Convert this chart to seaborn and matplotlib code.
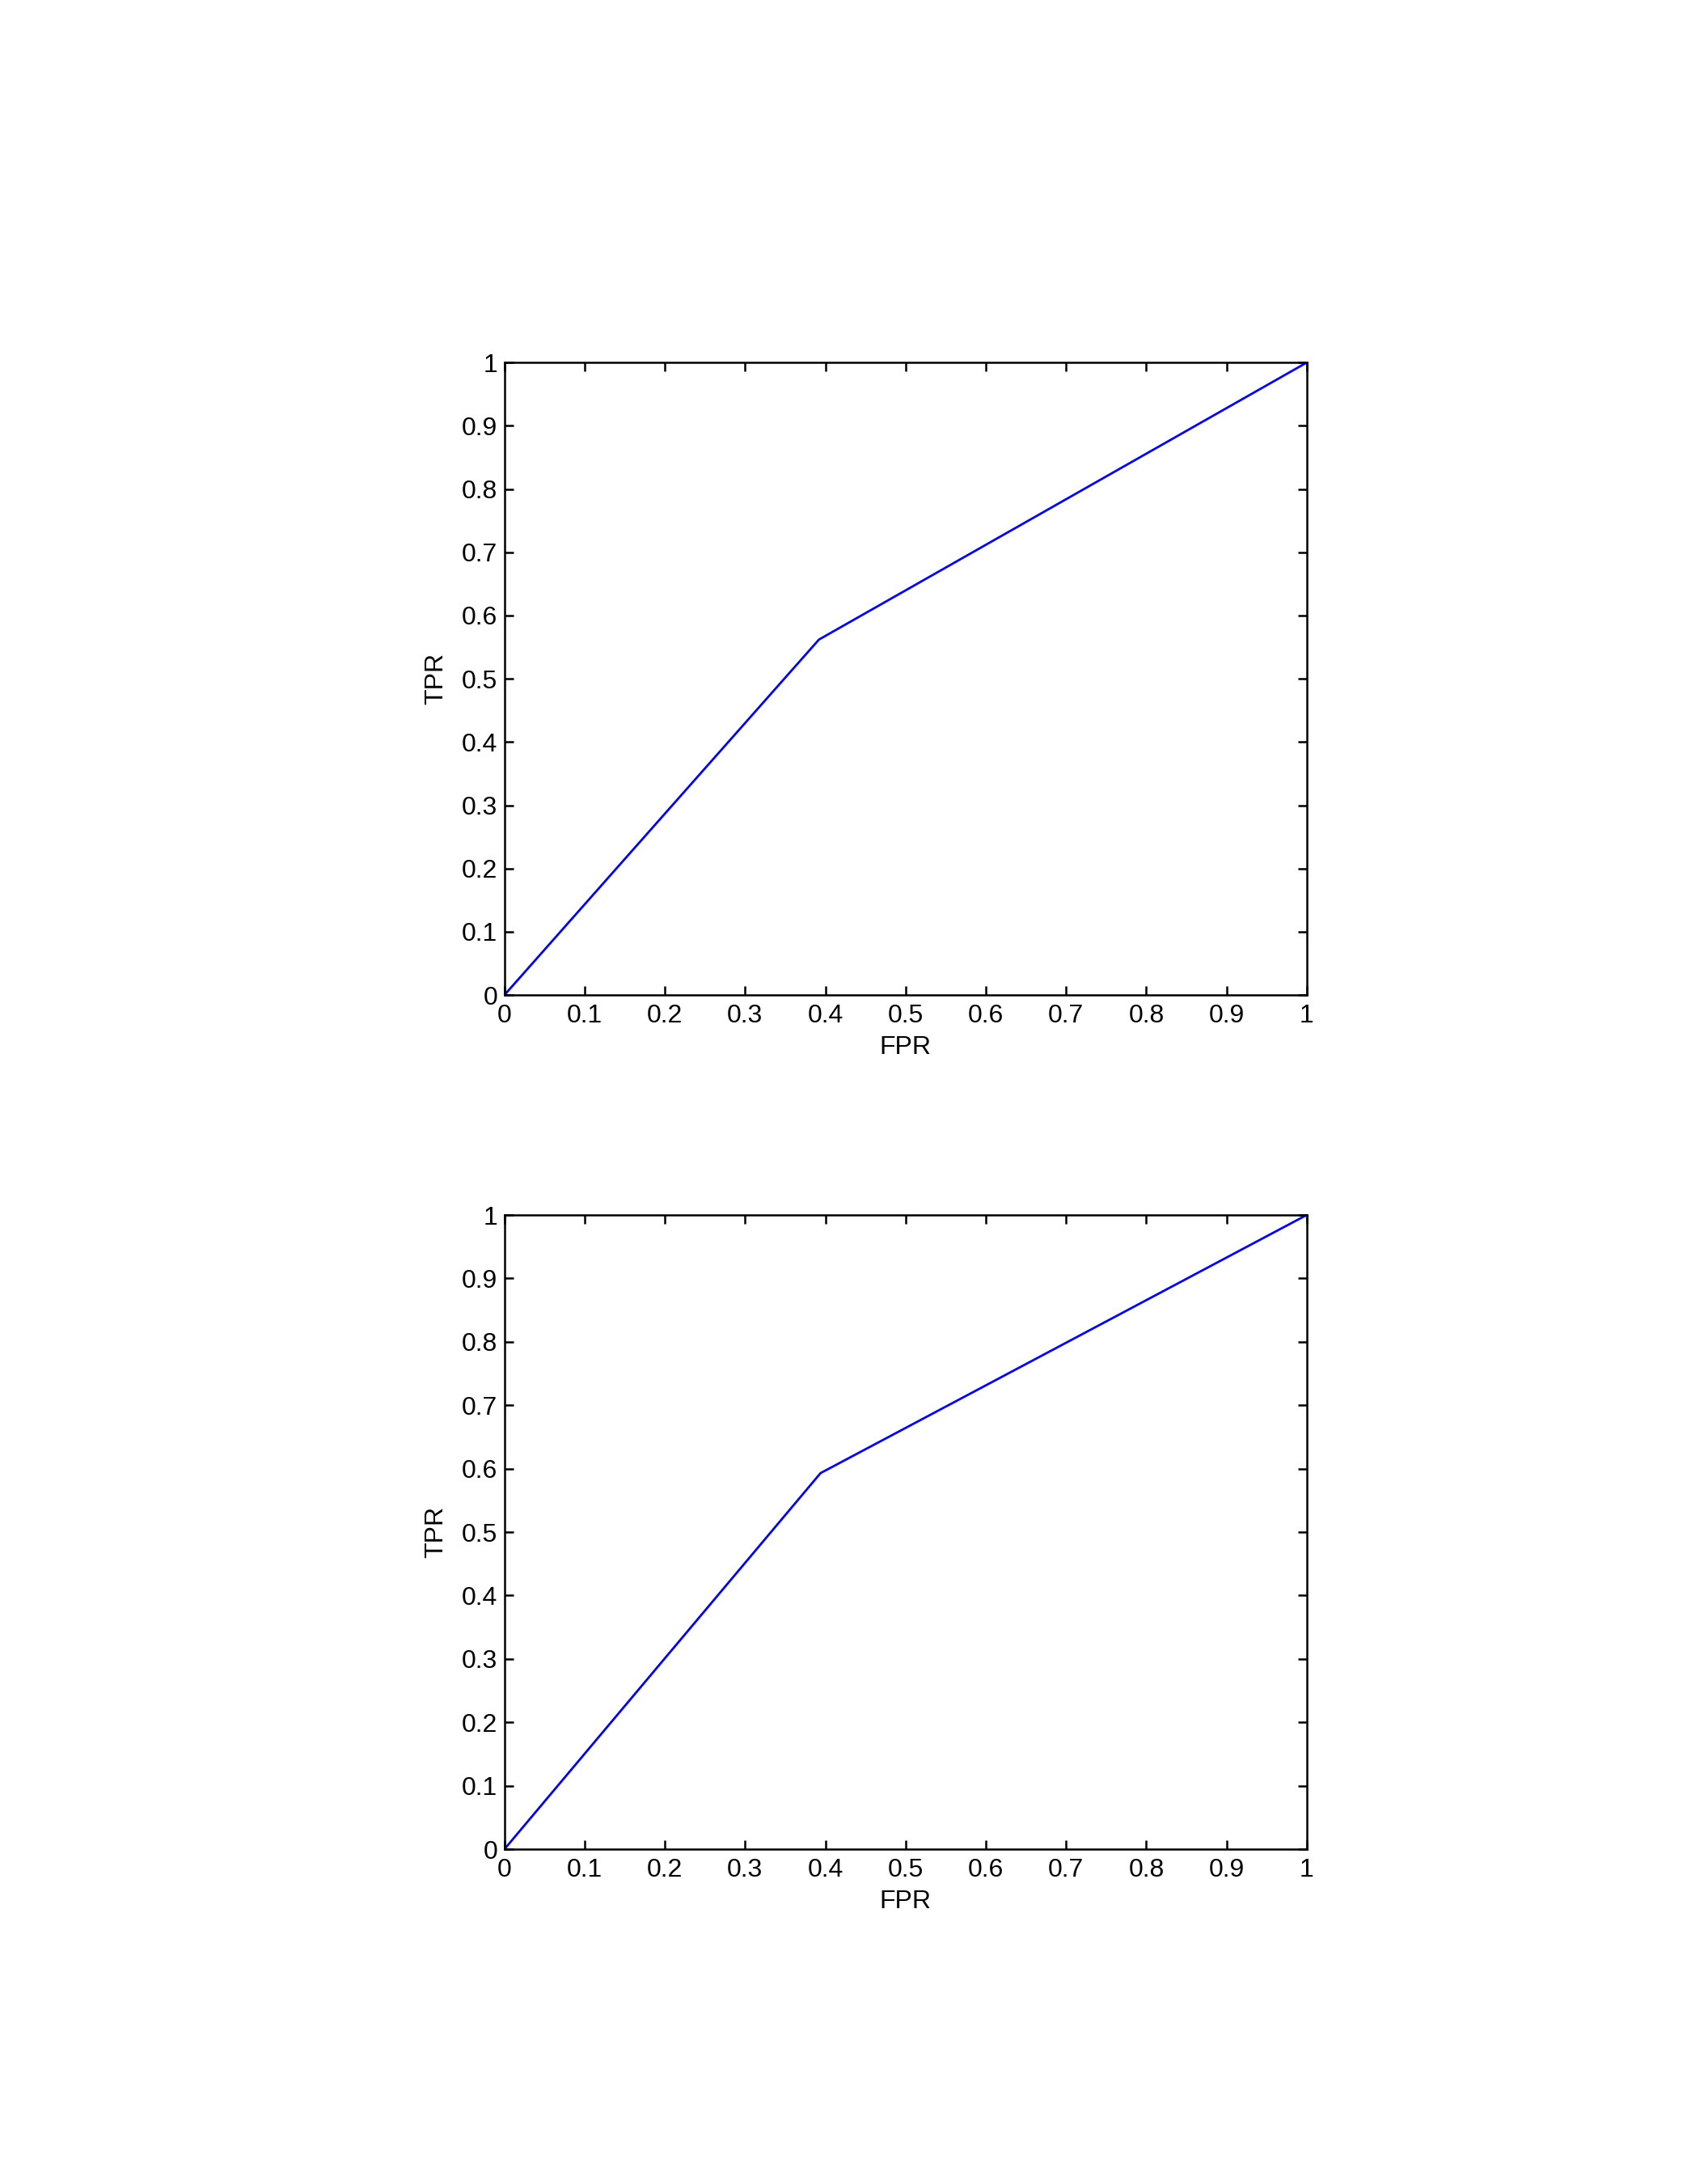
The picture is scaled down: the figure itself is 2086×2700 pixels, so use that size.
import numpy as np
import pandas as pd
import matplotlib
matplotlib.use("Agg")
import matplotlib.pyplot as plt
import seaborn as sns

# ROC points (one threshold -> three points)
fpr_top = [0.0, 0.392, 1.0]
tpr_top = [0.0, 0.562, 1.0]
fpr_bottom = [0.0, 0.394, 1.0]
tpr_bottom = [0.0, 0.593, 1.0]
tick_values = [0, 0.1, 0.2, 0.3, 0.4, 0.5, 0.6, 0.7, 0.8, 0.9, 1]
tick_labels = ["0", "0.1", "0.2", "0.3", "0.4", "0.5", "0.6", "0.7", "0.8", "0.9", "1"]

sns.set_style("ticks")
plt.rcParams["font.family"] = ["Liberation Sans", "DejaVu Sans"]
plt.rcParams["axes.linewidth"] = 0.9
plt.rcParams["xtick.direction"] = "in"
plt.rcParams["ytick.direction"] = "in"
plt.rcParams["text.color"] = "black"
plt.rcParams["axes.labelcolor"] = "black"

fig = plt.figure(figsize=(10.43, 13.5), dpi=200)
fig.patch.set_facecolor("white")

positions = [
    [0.299, 0.5444, 0.4756, 0.2896],
    [0.299, 0.1533, 0.4756, 0.2904],
]
curves = [(fpr_top, tpr_top), (fpr_bottom, tpr_bottom)]

for pos, (fpr, tpr) in zip(positions, curves):
    ax = fig.add_axes(pos)
    df = pd.DataFrame({"FPR": fpr, "TPR": tpr})
    sns.lineplot(data=df, x="FPR", y="TPR", sort=False, color="#0000ff",
                 linewidth=1.0, ax=ax)
    ax.set_xlim(0, 1)
    ax.set_ylim(0, 1)
    ax.set_xticks(tick_values)
    ax.set_xticklabels(tick_labels)
    ax.set_yticks(tick_values)
    ax.set_yticklabels(tick_labels)
    ax.tick_params(axis="both", which="both", direction="in", length=3.8,
                   width=0.9, labelsize=11.5, top=True, right=True,
                   colors="black")
    ax.tick_params(axis="x", pad=4)
    ax.tick_params(axis="y", pad=3)
    ax.set_xlabel("FPR", fontsize=11.5, labelpad=3, color="black")
    ax.set_ylabel("TPR", fontsize=11.5, labelpad=6, color="black")
    for side in ["top", "right", "left", "bottom"]:
        ax.spines[side].set_visible(True)
        ax.spines[side].set_color("black")
    ax.set_facecolor("white")

fig.savefig("out.png", dpi=200, facecolor="white")
